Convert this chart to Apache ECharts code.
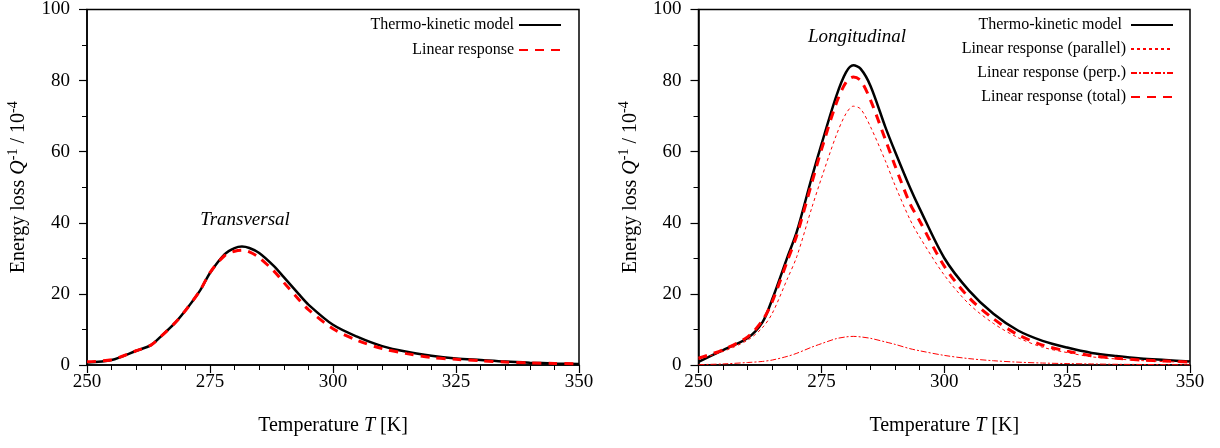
<!DOCTYPE html>
<html>
<head>
<meta charset="utf-8">
<script src="https://cdn.jsdelivr.net/npm/echarts@6/dist/echarts.min.js"></script>
<style>
html,body{margin:0;padding:0;background:#fff;}
#chart{width:1220px;height:448px;}
</style>
</head>
<body>
<div id="chart"></div>
<script>
// Temperature grid (K)
const temps = [250,255,260,263,265,268,270,273,275,278,280,281.5,283,285,288,290,293,295,300,305,310,315,320,325,330,335,340,345,350];
// Transversal panel
const transThermo = [0.7,1.4,4.0,5.6,8.0,12,15.3,21,25.9,31.2,32.9,33.3,32.9,31.5,27.8,24.7,20,17,11.3,7.9,5.3,3.7,2.6,1.85,1.4,0.95,0.65,0.45,0.3];
const transLinear = [0.9,1.5,4.0,5.6,8.0,12,15.3,21,26,30.8,32.0,32.3,31.8,30.2,26.4,23.2,18.5,15.6,10.2,6.9,4.6,3.2,2.1,1.6,1.2,0.85,0.6,0.45,0.35];
// Longitudinal panel
const longThermo = [0.9,4.2,7.6,12.0,18.5,30,37.5,52.5,62,75.5,82.3,84.3,83.3,78.5,67,60,50,44,30.1,21,14.4,9.7,6.8,4.9,3.4,2.5,1.8,1.4,1.0];
const longParallel = [1.6,3.8,7.0,10.5,14.5,24,30.5,44,52.5,64.5,70.7,72.8,72,67,57.5,50.5,41,36,25.3,17.2,11.7,7.7,5.0,3.5,2.3,1.7,1.25,0.95,0.75];
const longPerp = [0.1,0.3,0.7,1.0,1.4,2.4,3.3,5.0,6.0,7.4,7.9,8.05,7.9,7.5,6.5,5.8,4.6,4.0,2.7,1.8,1.2,0.8,0.55,0.4,0.3,0.2,0.15,0.1,0.05];
const longTotal = [1.9,4.3,7.9,12.5,17.8,29,36.5,51,60.5,73.5,79.5,81,80,74.5,63.5,56,45.5,40.5,27.8,19,13,8.5,5.6,3.9,2.6,1.9,1.4,1.1,0.85];
// Axis settings
const xMin = 250, xMax = 350, xStep = 25;
const yMin = 0, yMax = 100, yStep = 20;

const pair = (xs, ys) => xs.map((x, i) => [x, ys[i]]);
const FONT = 'Liberation Serif';

const blackStyle = {color: '#000', width: 2.5, type: 'solid'};
const redDash = {color: '#ff0000', width: 3, type: [9, 7]};
const redThin = {color: '#ff0000', width: 1, type: [3, 3]};
const redDashDot = {color: '#ff0000', width: 1, type: [6, 2, 2, 2]};

function xAxisCfg(gi) {
  return {
    gridIndex: gi, type: 'value', min: xMin, max: xMax, interval: xStep,
    name: '{n|Temperature }{i|T}{n| [K]}', nameLocation: 'middle', nameGap: 51,
    nameTextStyle: {rich: {n: {fontFamily: FONT, fontSize: 20, color: '#000'}, i: {fontFamily: FONT, fontSize: 20, fontStyle: 'italic', color: '#000'}}},
    axisLine: {show: true, lineStyle: {color: '#000', width: 1.5}},
    axisTick: {show: true, length: 8, lineStyle: {color: '#000', width: 1.2}},
    minorTick: {show: true, splitNumber: 5, length: 5, lineStyle: {color: '#000', width: 1}},
    axisLabel: {fontFamily: FONT, fontSize: 19, color: '#000', margin: 8},
    splitLine: {show: false}
  };
}
function yAxisCfg(gi) {
  return {
    gridIndex: gi, type: 'value', min: yMin, max: yMax, interval: yStep,
    name: '{n|Energy loss }{i|Q}{s|-1}{n| / 10}{s|-4}', nameLocation: 'middle', nameGap: 55,
    nameTextStyle: {rich: {
      n: {fontFamily: FONT, fontSize: 20, color: '#000', lineHeight: 26},
      i: {fontFamily: FONT, fontSize: 20, fontStyle: 'italic', color: '#000', lineHeight: 26},
      s: {fontFamily: FONT, fontSize: 14, color: '#000', verticalAlign: 'top', lineHeight: 14}
    }},
    axisLine: {show: true, lineStyle: {color: '#000', width: 1.5}},
    axisTick: {show: true, length: 8, lineStyle: {color: '#000', width: 1.2}},
    minorTick: {show: true, splitNumber: 2, length: 5, lineStyle: {color: '#000', width: 1}},
    axisLabel: {fontFamily: FONT, fontSize: 19, color: '#000', margin: 17},
    splitLine: {show: false}
  };
}
function line(name, gi, xs, ys, ls, z) {
  return {name, type: 'line', xAxisIndex: gi, yAxisIndex: gi, data: pair(xs, ys),
    showSymbol: false, symbol: 'none', smooth: 0.3, lineStyle: ls, itemStyle: {color: ls.color}, z: z || 2, animation: false};
}
function legendItem(name, right, top) {
  return {data: [name], right, top, align: 'right', orient: 'vertical', padding: 0,
    itemWidth: 42, itemHeight: 14, itemGap: 0, selectedMode: false,
    itemStyle: {opacity: 0},
    textStyle: {fontFamily: FONT, fontSize: 16, color: '#000'}};
}

const chart = echarts.init(document.getElementById('chart'), null, {renderer: 'canvas'});
chart.setOption({
  animation: false,
  backgroundColor: '#fff',
  grid: [
    {left: 87, right: 641, top: 5, bottom: 83, show: true, borderColor: '#000', borderWidth: 1.5, containLabel: false},
    {left: 698.5, right: 30, top: 5, bottom: 83, show: true, borderColor: '#000', borderWidth: 1.5, containLabel: false}
  ],
  title: [
    {text: 'Transversal', left: 240, top: 205, textAlign: 'center', textStyle: {fontFamily: FONT, fontSize: 19, fontStyle: 'italic', fontWeight: 'normal', color: '#000'}},
    {text: 'Longitudinal', left: 852, top: 22, textAlign: 'center', textStyle: {fontFamily: FONT, fontSize: 19, fontStyle: 'italic', fontWeight: 'normal', color: '#000'}}
  ],
  legend: [
    legendItem('Thermo-kinetic model', 658, 17),
    legendItem('Linear response', 658, 42),
    legendItem('Thermo-kinetic model ', 46, 17),
    legendItem('Linear response (parallel)', 46, 41),
    legendItem('Linear response (perp.)', 46, 65),
    legendItem('Linear response (total)', 46, 89)
  ],
  xAxis: [xAxisCfg(0), xAxisCfg(1)],
  yAxis: [yAxisCfg(0), yAxisCfg(1)],
  series: [
    line('Linear response', 0, temps, transLinear, redDash, 2),
    line('Thermo-kinetic model', 0, temps, transThermo, blackStyle, 1),
    line('Linear response (perp.)', 1, temps, longPerp, redDashDot, 2),
    line('Linear response (parallel)', 1, temps, longParallel, redThin, 2),
    line('Thermo-kinetic model ', 1, temps, longThermo, blackStyle, 1),
    line('Linear response (total)', 1, temps, longTotal, redDash, 3)
  ]
});
</script>
</body>
</html>
